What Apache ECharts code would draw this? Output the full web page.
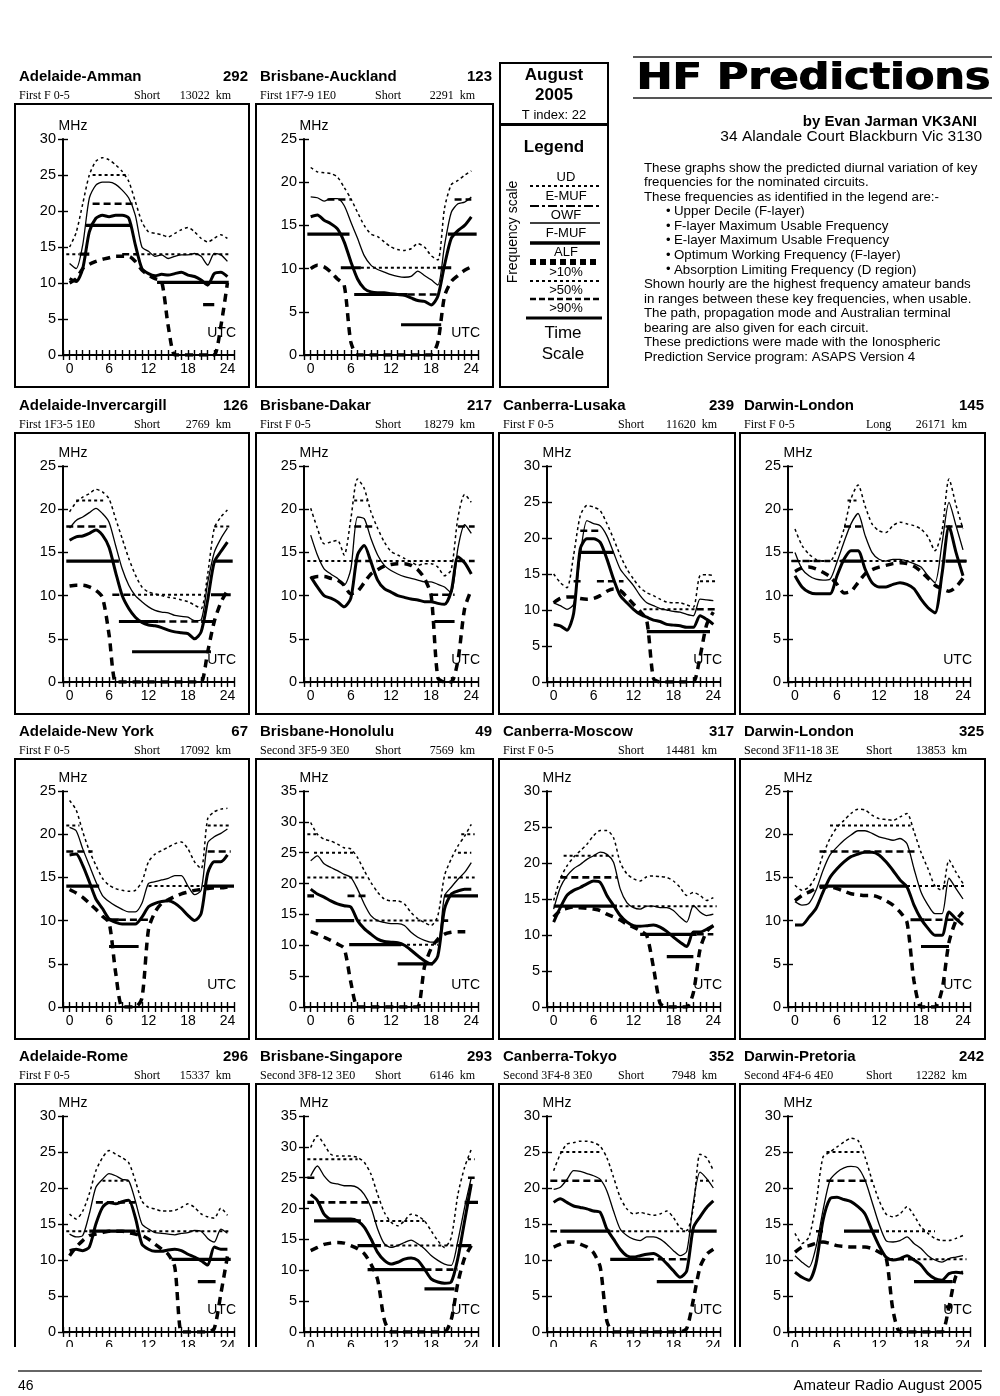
<!DOCTYPE html>
<html><head><meta charset="utf-8">
<script src="https://cdn.jsdelivr.net/npm/echarts@6/dist/echarts.min.js"></script>
<style>html,body{margin:0;padding:0;background:#fff}#c{width:1000px;height:1396px}</style>
</head><body><div id="c"></div><script>
// ---------- hours (x) ----------
const HOURS = [0,1,2,3,4,5,6,7,8,9,10,11,12,13,14,15,16,17,18,19,20,21,22,23,24];

// ---------- panel captions ----------
const TITLES = ['Adelaide-Amman','Brisbane-Auckland','Adelaide-Invercargill','Brisbane-Dakar','Canberra-Lusaka','Darwin-London','Adelaide-New York','Brisbane-Honolulu','Canberra-Moscow','Darwin-London','Adelaide-Rome','Brisbane-Singapore','Canberra-Tokyo','Darwin-Pretoria'];
const BEARINGS = ['292','123','126','217','239','145','67','49','317','325','296','293','352','242'];
const MODES = ['First F 0-5','First 1F7-9 1E0','First 1F3-5 1E0','First F 0-5','First F 0-5','First F 0-5','First F 0-5','Second 3F5-9 3E0','First F 0-5','Second 3F11-18 3E','First F 0-5','Second 3F8-12 3E0','Second 3F4-8 3E0','Second 4F4-6 4E0'];
const PATHS = ['Short','Short','Short','Short','Short','Long','Short','Short','Short','Short','Short','Short','Short','Short'];
const DISTS = ['13022','2291','2769','18279','11620','26171','17092','7569','14481','13853','15337','6146','7948','12282'];
const YMAX = [30,25,25,25,30,25,25,35,30,25,30,35,30,30];

// ---------- 1 Adelaide-Amman ----------
const amman_ud   = [15,17,21,25,26.9,27.4,27.1,26.4,25.5,24.1,21.3,18.5,17.1,16.9,16.7,16.4,16.9,17.4,17.7,17.1,16.2,15.7,16.2,16.7,16.2];
const amman_fmuf = [12.7,12,15.3,21.8,23.6,24,24,23.7,22.9,21.8,19.4,15,14.4,13.7,13.9,13.4,13.7,13.9,13.9,14.1,13.7,12.5,14.1,13.9,13];
const amman_owf  = [10.6,10.2,12,17.1,19,19.4,19.2,19.4,19.4,19,15.3,12,11.3,11,11.2,11.1,11.3,11.5,11.1,10.9,10.4,9.7,11.3,11.5,10.9];
const amman_alf  = [10,10.6,12,12.6,13,13.3,13.5,13.7,13.7,13.7,13,11.8,11.1,10.6,10.2,4,0,0,0,0,0,0,0,4,10];
const amman_p10 = [[25,3.5,9],[14,-0.5,1.5],[14,10,24.5]];
const amman_p50 = [[21,3.5,10],[14,8,10.5]];
const amman_p90 = [[18,2.5,9.5],[14,1.5,3],[10.1,13.3,24.2],[7,20.3,22]];

// ---------- 2 Brisbane-Auckland ----------
const auck_ud   = [21.7,21.2,21.1,21,20.6,19.4,18.1,16.5,15,14,13.7,13.1,12.5,12.2,12.1,12.3,12.9,12.5,11.5,11,17,19.7,20.2,20.8,21.3];
const auck_fmuf = [18.3,18.2,17.8,18.1,18.1,17.3,15.4,13.5,11.5,10.4,9.9,9.6,9.3,9.1,9,9.1,9.7,9.2,8.7,8.1,12.7,16.5,17.5,17.7,18.3];
const auck_owf  = [16,16.2,15.6,15.2,14.6,13.1,10.8,8.8,7.7,7.3,7.2,7.2,7.1,7,6.9,6.6,6.3,6.2,5.8,6.8,10.4,13.5,14.4,15,16];
const auck_alf  = [10,10.4,10.2,9.6,8.8,8.1,1.5,0,0,0,0,0,0,0,0,0,0,0,0,1.5,6.8,8.5,9.2,9.8,10.2];
const auck_p10 = [[10.1,7.5,19]];
const auck_p50 = [[18,2.5,6],[18,21.5,24],[7,14.5,19]];
const auck_p90 = [[14,-0.5,5.8],[14,20.5,24.8],[10.1,4.5,7.5],[10.1,19,21],[7,6.5,14.5],[3.5,13.5,19.5]];

// ---------- 3 Adelaide-Invercargill ----------
const inv_ud   = [19.7,20.8,21.4,21.8,22.3,22,21.2,18.9,16.6,14.3,12.4,11,10.4,10.2,10,9.8,9.7,9.5,9.3,8.9,8.5,12.5,17.8,19.1,19.9];
const inv_fmuf = [17.8,18.7,19.1,19.6,20.1,19.5,18.5,15.8,13.1,11.2,10,9.3,8.7,8.3,8.1,8,7.7,7.6,7.5,7.1,7.2,11.5,15,16.6,17.8];
const inv_owf  = [16.4,16.8,16.9,17.2,17.6,17,15.6,12.7,10,8.5,7.5,6.9,6.6,6.5,6.3,6,5.8,5.7,5.6,5,5.8,9.5,13.9,15.1,16.2];
const inv_alf  = [11.1,11.2,11.2,11,10.6,9.8,5.5,0,0,0,0,0,0,0,0,0,0,0,0,0,0,3.5,7,9.2,10.6];
const inv_p10 = [[21,1,5.5],[10.1,9.5,20.5],[18,22,24.5]];
const inv_p50 = [[18,-0.5,6],[10.1,6.5,9.5],[7,13.5,20]];
const inv_p90 = [[14,-0.5,7.5],[14,22,24.8],[10.1,21.5,24.5],[7,7.5,13.5],[7,20,22],[3.5,9.5,21.5]];

// ---------- 4 Brisbane-Dakar ----------
const dak_ud   = [20.1,17.8,16,16.2,16.4,14.7,18.9,23.5,22.4,19.7,17.8,16.2,15.1,14.7,14.3,13.9,13.5,13.7,13.7,13.3,12.3,13,19,21.7,20.8];
const dak_fmuf = [17,14.7,13.1,12.5,12,11.2,13.1,19.1,18.9,16.6,14.7,13.5,12.9,12.5,12.2,12,11.8,11.6,11.6,11.3,11,10.3,15.5,18.2,17.2];
const dak_owf  = [12.2,11,10,9.7,9.3,8.7,9.7,14.7,15.8,13.9,11.8,10.8,10.4,10,9.8,9.6,9.5,9.3,9.3,9.1,9,10.5,14.5,13.8,12.5];
const dak_alf  = [12,12.2,12.2,12,11.8,11.2,10.2,10.5,11.5,12.5,13,13.4,13.6,13.7,13.7,13.5,13,12,10,0.5,0,0,2.5,8.5,10.7];
const dak_p10 = [[14,-0.5,6.5],[14,10,22],[21,6.5,8.5]];
const dak_p50 = [[14,6.5,10],[18,6.5,9.5],[18,22,24.5],[14,22,24.5],[10.1,18,21.5]];
const dak_p90 = [[7,18.5,21.5]];

// ---------- 5 Canberra-Lusaka ----------
const lus_ud   = [15,13.8,13.1,17.6,23.1,24.5,24.3,23.8,22,19.9,17.6,15.7,14.3,13.1,12.4,12,11.5,11.1,11,11,10.7,10.4,14.8,14.9,14.8];
const lus_fmuf = [11,10.6,10.1,10.8,17.6,22.4,22,21.7,20.3,18,15.7,14.5,13.4,12,11,10.6,10.2,10,9.8,9.7,9.4,9.2,11.5,11.4,11.3];
const lus_owf  = [8,7.8,7.2,9.5,18.5,19.9,19.9,19.4,17.1,14.3,12,11,10.1,9.4,9,8.6,8.4,8,7.9,7.8,7.6,7.6,9.2,8.7,8];
const lus_alf  = [11,11.6,11.8,11.8,11.6,11.5,11.6,12,12.6,12.9,12.7,11.8,10.8,9.8,8.5,0.5,0,0,0,0,0,0,3.5,8,9.7];
const lus_p10 = [[14,22,24.5],[10.1,13.5,21.5]];
const lus_p50 = [[21,4,7],[14,3,4.5],[14,6.5,10.5],[10.1,21.5,24.5]];
const lus_p90 = [[18,4,9],[7,14,23.5]];

// ---------- 6 Darwin-London (long) ----------
const dl1_ud   = [17.7,15.8,14.8,14.2,14,14,15.4,17.7,21.2,22.8,20.4,18.3,17.5,17.3,18.1,18.5,18.3,18.1,17.7,16.8,15.2,17.5,23.5,20.5,17.7];
const dl1_fmuf = [15,13.1,12.3,11.9,11.8,11.9,13.9,16.2,18.3,19.5,17,15,14.2,14,14.2,14.2,14,13.7,13.3,12.3,11.5,16,20.8,18.1,15.3];
const dl1_owf  = [12.3,11,10.4,10.2,10.2,10.2,12.3,14.2,15.2,15.2,13.1,11.5,11,11,11.3,11.5,11.3,10.8,9.6,8.6,8,12.5,18,15,12.3];
const dl1_alf  = [12.8,13.2,13.3,13.1,12.7,12.2,11.3,10.3,10.5,11.5,12.5,13,13.3,13.5,13.7,13.8,13.7,13.4,12.8,12,11.2,10.8,10.5,11,12];
const dl1_p10 = [[14,-0.5,24.5],[21,7.5,9]];
const dl1_p50 = [[14,-0.5,5],[18,7,9.5],[18,21.5,24]];
const dl1_p90 = [[14,6.5,9.5],[14,21.5,24.5]];

// ---------- 7 Adelaide-New York ----------
const ny_ud   = [23.9,22.8,20.3,18.1,16.4,14.9,14.1,13.7,13.5,13.4,13.5,14.5,16.8,17.7,18.1,18.5,18.9,19.1,18.3,16.8,16,21.8,22.6,22.9,23];
const ny_fmuf = [20.8,20.4,18.3,16.4,14.5,12.9,12.2,11.7,11.3,11,11,12,14.3,14.5,14.7,14.9,15.2,15.2,14,13,13.5,19,19.7,20.1,20.6];
const ny_owf  = [17.6,17.7,16.4,14.5,12.5,11.4,10.2,9.8,9.6,9.6,9.6,10.4,11.6,12,12.2,12.3,12,11.4,10.6,10,10.8,15.5,16.8,16.8,17.6];
const ny_alf  = [13.6,13.2,12.7,12,11.3,10.5,9.8,4,0,0,0,1,9,11,12,12.4,12.8,13.1,13.3,13.5,13.6,13.7,13.8,13.8,13.9];
const ny_p10 = [[21,-0.5,1.5],[14,12,21],[21,21,24.5]];
const ny_p50 = [[18,-0.5,3.5],[18,21,24.5],[10.1,7.5,12.5]];
const ny_p90 = [[14,-0.5,4.5],[14,20.5,25],[10.1,5.5,7.5],[7,6,10.5]];

// ---------- 8 Brisbane-Honolulu ----------
const hon_ud   = [29.9,28,27.2,26.9,26.4,25.8,25.6,24.2,22.1,20.2,18.6,17.5,17.2,17.2,16.7,15.3,14.3,13.7,13.2,14.8,21.3,24,26.1,27.7,29.6];
const hon_fmuf = [23.7,24.5,23.2,22.6,22.1,21.5,21,19.1,16.7,14.8,14,13.7,13.5,13.5,13.2,12.1,11.3,10.8,10.5,10.5,18,19.4,20.7,21.8,23.4];
const hon_owf  = [19.1,18.3,17.8,17.2,16.7,16.4,16.2,14,12.7,11.8,11,10.6,10.5,10.4,10,9.2,8.3,7.5,7,8.3,15.9,18.3,18.8,19.1,19.1];
const hon_alf  = [12.2,11.8,11.3,10.8,10.2,9.5,4,0,0,0,0,0,0,0,0,0,0,6.5,9.5,11,11.8,12.1,12.2,12.2,12.2];
const hon_p10 = [[28,-0.5,1],[25,0.5,6.5],[21,-0.5,8],[14,7,19.5],[10.1,13.5,19],[28,22.5,24.5],[25,22,24],[21,20.5,24.5]];
const hon_p50 = [[18,5.5,8.5],[14,19.5,21]];
const hon_p90 = [[18,-0.5,0.5],[14,0.75,6.5],[10.1,5.75,13.5],[7,13,18.25],[18,20,25]];

// ---------- 9 Canberra-Moscow ----------
const mos_ud   = [14.8,17.8,19.6,20.8,21.7,22.6,23.8,24.5,24.5,23.5,20.1,18.5,17.8,17.5,18.1,18.2,18.1,18,17.5,16.6,15.5,15.9,15.5,14.8,15.2];
const mos_fmuf = [13.6,16.6,18.2,19.2,19.8,20.5,21,21.5,21.2,20.1,16.4,14.5,13.8,13.6,14,14,13.8,13.8,13.4,12.5,11.8,14.1,13.2,12.7,12.9];
const mos_owf  = [11.8,13.8,15.5,16.2,16.6,17.1,17.5,17.3,15.5,14.1,12.7,11.8,11.3,11.2,11.3,11.4,11.1,10.5,9.7,9,8.4,10.4,10.4,10.8,11.3];
const mos_alf  = [12.5,13.4,13.7,13.9,13.8,13.7,13.6,13.4,12.9,12.5,12.1,11.5,11.1,10.6,9.9,5.5,0.5,0,0,0,0,2,8,10.5,11.3];
const mos_p10 = [[21,1.5,9],[14,9,24.5]];
const mos_p50 = [[18,1,9.5],[10.1,21.5,24]];
const mos_p90 = [[14,0,9.5],[10.1,13,21.5],[7,17,21]];

// ---------- 10 Darwin-London (short) ----------
const dl2_ud   = [14.1,13.5,13.9,15.2,17.6,19.5,20.8,21.6,22.4,22.9,22.8,22.2,21.8,21.7,21.6,22,22.4,20.3,17.9,16,14,13.5,17,15.6,14.3];
const dl2_fmuf = [12.2,11.8,12,13.5,15.8,17.6,18.5,19.3,19.9,20.4,20.4,20.1,19.7,19.5,19.3,19.5,18.9,16,13.3,11.8,10.8,10.8,14.9,13.7,12.5];
const dl2_owf  = [9.5,9.5,10.4,11.4,13.3,15,16,16.8,17.4,17.7,17.9,17.9,17.6,16.8,15.8,14.7,13.9,11.8,10.2,9.1,8.3,8.3,11,10.2,9.5];
const dl2_alf  = [12.3,12.9,13.3,13.7,13.9,13.9,13.7,13.4,13.1,13,12.9,12.9,12.7,12.3,11.8,11,9.8,3,0,0,0,2,7.5,10,11];
const dl2_p10 = [[21,5,16.5],[14,16,24.5]];
const dl2_p50 = [[18,3.5,17.5],[10.1,18.5,23.5]];
const dl2_p90 = [[14,3.5,16],[10.1,16.5,18.5],[7,18,22]];

// ---------- 11 Adelaide-Rome ----------
const rom_ud   = [16.4,15.7,16.8,19.2,22.4,24.2,25.2,24.7,24.2,23.5,21,18.2,17.3,17.1,16.8,16.8,16.9,17.3,17.8,17.3,16.4,16,15.8,17.2,16.2];
const rom_fmuf = [13.6,13.2,13.4,16.4,20.1,21.2,22,21.7,21.2,21,18.2,15,14.3,13.8,13.7,13.6,13.5,13.7,13.8,14.1,14,13,12.5,14.3,13.7];
const rom_owf  = [11.3,11.5,11.3,11.8,15,17.3,18,17.8,18.1,18.3,15.9,12.2,11.5,11.2,11.2,11.4,11.5,11.3,10.8,10.4,9.9,9.3,11.8,11.5,11.5];
const rom_alf  = [10.6,11.8,12.7,13.4,13.6,13.8,14,14,14,13.8,13.6,13.4,12.9,12.2,11.5,10.8,9,0,0,0,0,0,0.5,5.3,10.5];
const rom_p10 = [[14,-0.5,3],[14,10,24.5],[21,5,9]];
const rom_p50 = [[18,4,10]];
const rom_p90 = [[14,3,10],[10.1,15.5,24.5],[7,19.5,22.2]];

// ---------- 12 Brisbane-Singapore ----------
const sin_ud   = [29.9,31.8,30.4,28.8,28.5,28.5,28.5,28.3,27.5,25.6,22.3,19.4,17.8,17.2,18,19.1,18.8,18,16.4,14.8,13.7,15.3,22.3,26.7,29.6];
const sin_fmuf = [25.3,26.9,25.3,24.2,24,23.7,23.7,23.4,22.3,20.2,16.7,14.3,13.7,14,14.5,14.9,14.3,13.5,12.4,11.6,11,10.8,14.8,20.2,25];
const sin_owf  = [22.3,21.3,19.1,18.3,18.3,18.3,18.3,18,17,15.1,12.9,11.6,11,11.3,11.8,12,11.6,10.2,8.6,8.1,7.9,8.1,12,18,24];
const sin_alf  = [13.2,13.7,14.2,14.4,14.5,14.4,14,13.5,12.7,11,8.5,2,0,0,0,0,0,0,0,0,0,2,8,12,14];
const sin_p10 = [[28,-0.5,7],[18,9.5,17],[14,11,22],[28,23.5,24.5]];
const sin_p50 = [[25,-0.5,1],[21,1,10],[10.1,17,22],[25,23.5,24.5]];
const sin_p90 = [[21,-0.5,0.5],[18,0.5,7.5],[14,7,10.5],[10.1,8.5,17],[7,17,21.5],[14,22,24],[21,23,25]];

// ---------- 13 Canberra-Tokyo ----------
const tok_ud   = [22.4,24.7,26.1,26.3,26.5,26.5,26.3,25.8,24.2,21.5,18.7,17.1,16.4,16.6,16.4,16.2,16.4,16.8,15.9,14.5,14.1,17.3,24.7,24.2,22.4];
const tok_fmuf = [19.8,20.1,21.2,22.4,22.3,22,21.7,21.2,19.6,16.8,14.3,13.4,12.9,12.7,13.2,13.2,12.9,12.2,11.3,10.6,11.2,18,22.2,21.3,20];
const tok_owf  = [18,18.5,18,17.5,17.3,17.1,16.8,16.6,14.3,12.9,11.5,10.6,10.4,10.6,10.8,10.9,10.4,9.5,8.5,7.6,8.5,14.5,16,17.3,18.2];
const tok_alf  = [11.8,12.2,12.5,12.5,12.2,11.8,11,9,1.5,0,0,0,0,0,0,0,0,0,0,0,0.5,4.5,9,10.8,11.5];
const tok_p10 = [[25,1,7],[14,8.5,20.5],[21,22,24]];
const tok_p50 = [[21,-0.5,8],[14,-0.5,0.5],[10.1,14,20]];
const tok_p90 = [[14,1,8.5],[14,20.5,24.5],[10.1,8.5,14.5],[7,15.5,21]];

// ---------- 14 Darwin-Pretoria ----------
const pre_ud   = [13.7,12.3,13.2,17.8,24.3,25,25.7,26.4,26.9,26.6,24.3,21.1,18.3,16.4,16,16.4,17.4,16.2,14.6,13.7,13,12.7,12.7,13,13.4];
const pre_fmuf = [10.6,9.7,9,11.8,16.9,21.1,22.2,22.8,23,22.8,21.1,18.1,15,12.7,12.5,12.7,13.2,12.3,11.6,10.6,10,9.7,10.2,10.4,10.6];
const pre_owf  = [8.3,7.6,7.2,9.5,15.5,18.5,18.7,18.4,18.1,17.4,16.4,14.1,12,10.4,10,10.2,10.6,10,9.3,8.1,7.4,7.2,8.1,8.3,8.2];
const pre_alf  = [11.1,11.8,12,12.3,12.5,12.3,12,11.9,11.8,11.8,11.8,11.6,11.1,10.4,3,0,0,0,0,0,0,0,3.5,7.8,8.3];
const pre_p10 = [[25,4.5,9.5],[14,13,20],[10.1,17.5,24.5]];
const pre_p50 = [[21,4.5,11],[14,3,4.5],[10.1,13,17.5]];
const pre_p90 = [[14,7,12],[7,17,22.5],[3.5,21.5,22.5]];

// ---------- tables built from the arrays ----------
const CURVES = [
  [amman_ud,amman_fmuf,amman_owf,amman_alf],[auck_ud,auck_fmuf,auck_owf,auck_alf],
  [inv_ud,inv_fmuf,inv_owf,inv_alf],[dak_ud,dak_fmuf,dak_owf,dak_alf],
  [lus_ud,lus_fmuf,lus_owf,lus_alf],[dl1_ud,dl1_fmuf,dl1_owf,dl1_alf],
  [ny_ud,ny_fmuf,ny_owf,ny_alf],[hon_ud,hon_fmuf,hon_owf,hon_alf],
  [mos_ud,mos_fmuf,mos_owf,mos_alf],[dl2_ud,dl2_fmuf,dl2_owf,dl2_alf],
  [rom_ud,rom_fmuf,rom_owf,rom_alf],[sin_ud,sin_fmuf,sin_owf,sin_alf],
  [tok_ud,tok_fmuf,tok_owf,tok_alf],[pre_ud,pre_fmuf,pre_owf,pre_alf]
];
const BANDS = [
  [amman_p10,amman_p50,amman_p90],[auck_p10,auck_p50,auck_p90],
  [inv_p10,inv_p50,inv_p90],[dak_p10,dak_p50,dak_p90],
  [lus_p10,lus_p50,lus_p90],[dl1_p10,dl1_p50,dl1_p90],
  [ny_p10,ny_p50,ny_p90],[hon_p10,hon_p50,hon_p90],
  [mos_p10,mos_p50,mos_p90],[dl2_p10,dl2_p50,dl2_p90],
  [rom_p10,rom_p50,rom_p90],[sin_p10,sin_p50,sin_p90],
  [tok_p10,tok_p50,tok_p90],[pre_p10,pre_p50,pre_p90]
];

// ---------- layout ----------
const SLOT_COL = [0,1,0,1,2,3,0,1,2,3,0,1,2,3];
const SLOT_ROW = [0,0,1,1,1,1,2,2,2,2,3,3,3,3];
const COL_X = [15,256,499,740];
const COL_W = [234,237,236,245];
const ROW_BOX_TOP = [104,433,759,1084];
const ROW_BOX_H = [283,281,280,300];
const ROW_GRID_TOP = [139,466,791,1116];
const PLOT_H = 216;

const SANS = '"Liberation Sans", Arial, sans-serif';
const SERIF = '"Liberation Serif", "Times New Roman", serif';
const CURVE_STYLES = [
  {width:1.5, type:[3,3]},
  {width:1.3, type:'solid'},
  {width:3, type:'solid'},
  {width:3.5, type:[8,6]}
];
const BAND_STYLES = [
  {width:2, type:[3,3]},
  {width:2.6, type:[7,4]},
  {width:3.2, type:'solid'}
];

function txt(x, y, text, font, align, extra) {
  return Object.assign({type:'text', x:x, y:y, z:50,
    style:{text:text, font:font, fill:'#000', textAlign:align||'left', textVerticalAlign:'middle', textBaseline:'middle'}}, extra||{});
}
function hline(x1, x2, y, width, dash, z) {
  return {type:'line', z:z||50, shape:{x1:x1,y1:y,x2:x2,y2:y}, style:{stroke:'#000', lineWidth:width, lineDash:dash||null}};
}

const grids = [], xAxes = [], yAxes = [], series = [], gfx = [];
const TICK = {color:'#000', width:1.4};

TITLES.forEach(function(title, i){
  const c = SLOT_COL[i], r = SLOT_ROW[i];
  const bx = COL_X[c], bw = COL_W[c], by = ROW_BOX_TOP[r];
  const gl = bx + 48, gr = bx + bw - 15, gt = ROW_GRID_TOP[r];
  grids.push({left:gl, top:gt, width:gr-gl, height:PLOT_H});
  xAxes.push({gridIndex:i, type:'value', min:-1, max:25, interval:1, position:'bottom',
    axisLine:{show:true, onZero:false, lineStyle:{color:'#000', width:2}},
    axisTick:{show:true, length:5, lineStyle:TICK},
    axisLabel:{color:'#000', fontSize:14, fontFamily:SANS, margin:7,
      formatter:function(v){ return (v>=0 && v<=24 && v%6===0) ? String(v) : ''; }},
    splitLine:{show:false}});
  xAxes.push({gridIndex:i, type:'value', min:-1, max:25, interval:1, position:'bottom',
    axisLine:{show:false, onZero:false}, axisTick:{show:true, inside:true, length:5, lineStyle:TICK},
    axisLabel:{show:false}, splitLine:{show:false}});
  yAxes.push({gridIndex:i, type:'value', min:0, max:YMAX[i], interval:5, position:'left',
    axisLine:{show:true, onZero:false, lineStyle:{color:'#000', width:2}},
    axisTick:{show:true, length:5, lineStyle:TICK},
    axisLabel:{color:'#000', fontSize:14.5, fontFamily:SANS, margin:7},
    splitLine:{show:false}});
  yAxes.push({gridIndex:i, type:'value', min:0, max:YMAX[i], interval:5, position:'left',
    axisLine:{show:false, onZero:false}, axisTick:{show:true, inside:true, length:5, lineStyle:TICK},
    axisLabel:{show:false}, splitLine:{show:false}});

  // band segments
  BANDS[i].forEach(function(segs, k){
    const data = [];
    segs.forEach(function(s){ data.push([s[1], s[0]]); data.push([s[2], s[0]]); data.push('-'); });
    series.push({type:'line', xAxisIndex:2*i, yAxisIndex:2*i, data:data, symbol:'none',
      lineStyle:{color:'#000', width:BAND_STYLES[k].width, type:BAND_STYLES[k].type, cap:'butt'},
      connectNulls:false, silent:true, z:2});
  });
  // curves
  CURVES[i].forEach(function(vals, k){
    series.push({type:'line', xAxisIndex:2*i, yAxisIndex:2*i,
      data:HOURS.map(function(h, j){ return [h, vals[j]]; }),
      symbol:'none', smooth:0.25,
      lineStyle:{color:'#000', width:CURVE_STYLES[k].width, type:CURVE_STYLES[k].type},
      silent:true, z:3});
  });

  // box + captions
  gfx.push({type:'rect', z:50, shape:{x:bx, y:by, width:bw, height:ROW_BOX_H[r]},
    style:{fill:'none', stroke:'#000', lineWidth:2}});
  gfx.push(txt(bx+4, by-27, title, 'bold 15px '+SANS, 'left'));
  gfx.push(txt(bx+bw-1, by-27, BEARINGS[i], 'bold 15px '+SANS, 'right'));
  gfx.push(txt(bx+4, by-8, MODES[i], '12px '+SERIF, 'left'));
  gfx.push(txt(bx+(c===3?126:119), by-8, PATHS[i], '12px '+SERIF, 'left'));
  gfx.push(txt(bx+bw-18, by-8, DISTS[i]+'  km', '12px '+SERIF, 'right'));
  gfx.push(txt(gl+10, gt-13, 'MHz', '14px '+SANS, 'center'));
  gfx.push(txt(gr+2, gt+PLOT_H-22, 'UTC', '14px '+SANS, 'right'));
});

// ---------- date / legend box ----------
gfx.push({type:'rect', z:50, shape:{x:500,y:63,width:108,height:61}, style:{fill:'none',stroke:'#000',lineWidth:2}});
gfx.push({type:'rect', z:50, shape:{x:500,y:125,width:108,height:262}, style:{fill:'none',stroke:'#000',lineWidth:2}});
gfx.push(txt(554, 75, 'August', 'bold 17px '+SANS, 'center'));
gfx.push(txt(554, 95, '2005', 'bold 17px '+SANS, 'center'));
gfx.push(txt(554, 115, 'T index: 22', '13px '+SANS, 'center'));
gfx.push(txt(554, 147, 'Legend', 'bold 17px '+SANS, 'center'));
gfx.push(txt(513, 232, 'Frequency scale', '14px '+SANS, 'center', {rotation:Math.PI/2}));
const LEG_LABELS = ['UD','E-MUF','OWF','F-MUF','ALF','>10%','>50%','>90%'];
const LEG_LABEL_Y = [177,196,215,233,252,272,290,308];
const LEG_LINE_Y = [186,206,223,243,262,281,299,318];
const LEG_LINE_W = [2,2,1.5,3.5,6,2,2.5,3.2];
const LEG_LINE_DASH = [[3,3],[9,3,3,3],null,null,[6,4],[3,3],[6,3],null];
LEG_LABELS.forEach(function(l, k){
  gfx.push(txt(566, LEG_LABEL_Y[k], l, '13px '+SANS, 'center'));
  gfx.push(hline(k===7?526:530, k===7?602:600, LEG_LINE_Y[k], LEG_LINE_W[k], LEG_LINE_DASH[k]));
});
gfx.push(txt(563, 333, 'Time', '17px '+SANS, 'center'));
gfx.push(txt(563, 354, 'Scale', '17px '+SANS, 'center'));

// ---------- header text ----------
gfx.push({type:'line', z:50, shape:{x1:633,y1:57,x2:992,y2:57}, style:{stroke:'#555', lineWidth:2}});
gfx.push({type:'line', z:50, shape:{x1:633,y1:98,x2:992,y2:98}, style:{stroke:'#555', lineWidth:2}});
[0, 1.3].forEach(function(dx){
  gfx.push({type:'text', x:636+dx, y:79, z:50, scaleX:1.13, originX:0, originY:0,
    style:{text:'HF Predictions', font:'bold 38px "DejaVu Sans", sans-serif', fill:'#000',
      textAlign:'left', textVerticalAlign:'middle', textBaseline:'middle'}});
});
gfx.push(txt(977, 122, 'by Evan Jarman VK3ANI', 'bold 15px '+SANS, 'right'));
gfx.push(txt(982, 137, '34 Alandale Court Blackburn Vic 3130', '15.5px '+SANS, 'right'));
const PARA = [
  ['These graphs show the predicted diurnal variation of key',0],
  ['frequencies for the nominated circuits.',0],
  ['These frequencies as identified in the legend are:-',0],
  ['Upper Decile (F-layer)',1],
  ['F-layer Maximum Usable Frequency',1],
  ['E-layer Maximum Usable Frequency',1],
  ['Optimum Working Frequency (F-layer)',1],
  ['Absorption Limiting Frequency (D region)',1],
  ['Shown hourly are the highest frequency amateur bands',0],
  ['in ranges between these key frequencies, when usable.',0],
  ['The path, propagation mode and Australian terminal',0],
  ['bearing are also given for each circuit.',0],
  ['These predictions were made with the Ionospheric',0],
  ['Prediction Service program: ASAPS Version 4',0]
];
PARA.forEach(function(p, k){
  const y = 168 + k*14.55;
  if (p[1]) {
    gfx.push(txt(666, y, '•', '13px '+SANS, 'left'));
    gfx.push(txt(674, y, p[0], '13.3px '+SANS, 'left'));
  } else {
    gfx.push(txt(644, y, p[0], '13.3px '+SANS, 'left'));
  }
});

// ---------- page cut + footer ----------
gfx.push({type:'rect', z:100, shape:{x:0,y:1347,width:1000,height:49}, style:{fill:'#fff'}});
gfx.push({type:'line', z:101, shape:{x1:18,y1:1371,x2:982,y2:1371}, style:{stroke:'#666', lineWidth:2}});
gfx.push(txt(18, 1386, '46', '14px '+SANS, 'left', {z:101}));
gfx.push(txt(982, 1386, 'Amateur Radio August 2005', '15px '+SANS, 'right', {z:101}));

const chart = echarts.init(document.getElementById('c'), null, {renderer:'canvas'});
chart.setOption({animation:false, backgroundColor:'#fff', grid:grids, xAxis:xAxes, yAxis:yAxes, series:series,
  graphic:{elements:gfx}});
</script></body></html>
